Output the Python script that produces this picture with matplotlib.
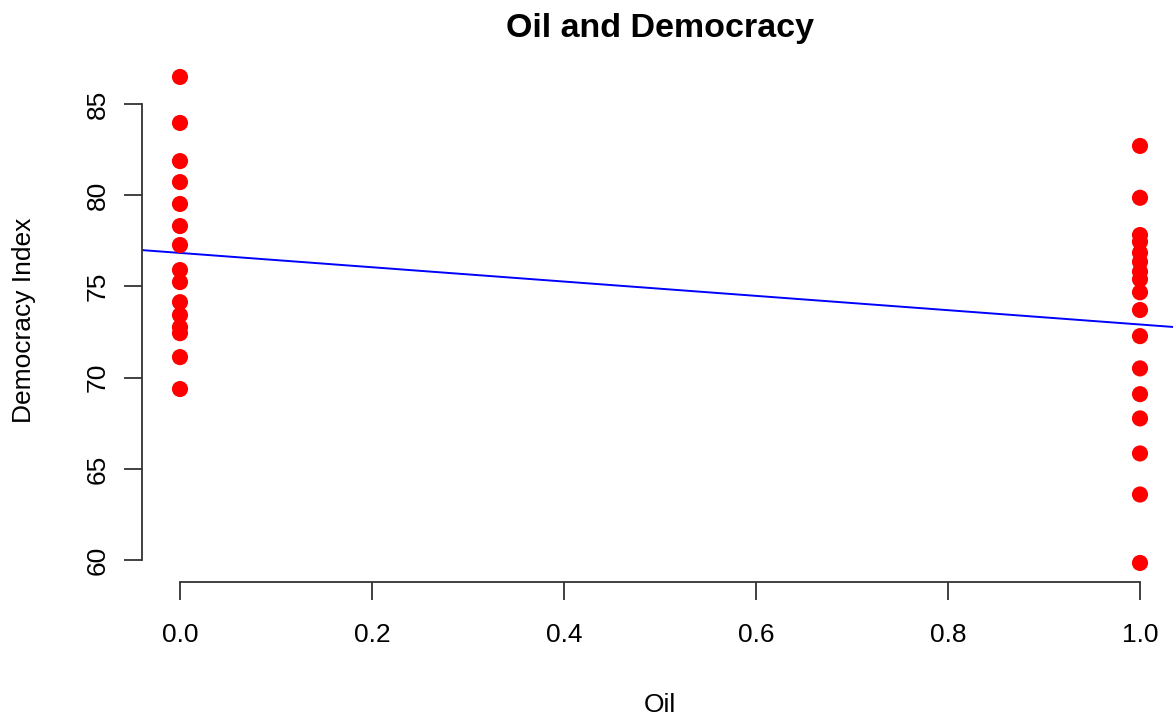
import numpy as np
import matplotlib.pyplot as plt

plt.rcParams['font.family'] = ['Liberation Sans', 'DejaVu Sans']

# democracy index for countries without oil (0) and with oil (1)
no_oil = [86.48, 83.96, 81.87, 80.72, 79.52, 78.31, 77.27, 75.90, 75.24,
          74.14, 73.43, 72.77, 72.44, 71.13, 69.38]
with_oil = [82.70, 79.86, 77.82, 77.45, 76.85, 76.35, 75.81, 75.39, 74.68,
            73.71, 72.28, 70.51, 69.10, 67.77, 65.85, 63.60, 59.85]
x_ticks = [0.0, 0.2, 0.4, 0.6, 0.8, 1.0]
y_ticks = [60, 65, 70, 75, 80, 85]

oil = np.array([0] * len(no_oil) + [1] * len(with_oil), dtype=float)
dem = np.array(no_oil + with_oil)

fig = plt.figure(figsize=(11.73, 7.19), dpi=100)
ax = fig.add_axes([0.1207, 0.190, 0.8839, 0.730])

ax.scatter(oil, dem, s=135, color='red', edgecolors='none', zorder=3, clip_on=False)

# least squares fit, like abline(lm(...)) in R
slope, icept = np.polyfit(oil, dem, 1)
ax.axline((0, icept), slope=slope, color='blue', lw=1.4, zorder=2)

# R style 4% padding on the axis ranges
xr = oil.max() - oil.min()
yr = dem.max() - dem.min()
ax.set_xlim(oil.min() - 0.04 * xr, oil.max() + 0.04 * xr)
ax.set_ylim(dem.min() - 0.04 * yr, dem.max() + 0.04 * yr)

for s in ['top', 'right']:
    ax.spines[s].set_visible(False)
ax.spines['left'].set_bounds(y_ticks[0], y_ticks[-1])
ax.spines['bottom'].set_bounds(x_ticks[0], x_ticks[-1])
for s in ['left', 'bottom']:
    ax.spines[s].set_color('#333333')
    ax.spines[s].set_linewidth(1.3)

ax.set_xticks(x_ticks)
ax.set_xticklabels(['%.1f' % v for v in x_ticks])
ax.set_yticks(y_ticks)
ax.set_yticklabels([str(v) for v in y_ticks], rotation=90, va='center')
ax.tick_params(direction='out', length=13, width=1.3, color='#333333',
               labelsize=19)
ax.tick_params(axis='x', pad=16)
ax.tick_params(axis='y', pad=10)

ax.set_xlabel('Oil', fontsize=19, labelpad=33)
ax.set_ylabel('Democracy Index', fontsize=19, labelpad=36)
ax.set_title('Oil and Democracy', fontsize=24.5, fontweight='bold', pad=15)

fig.savefig('out.png', dpi=100)
